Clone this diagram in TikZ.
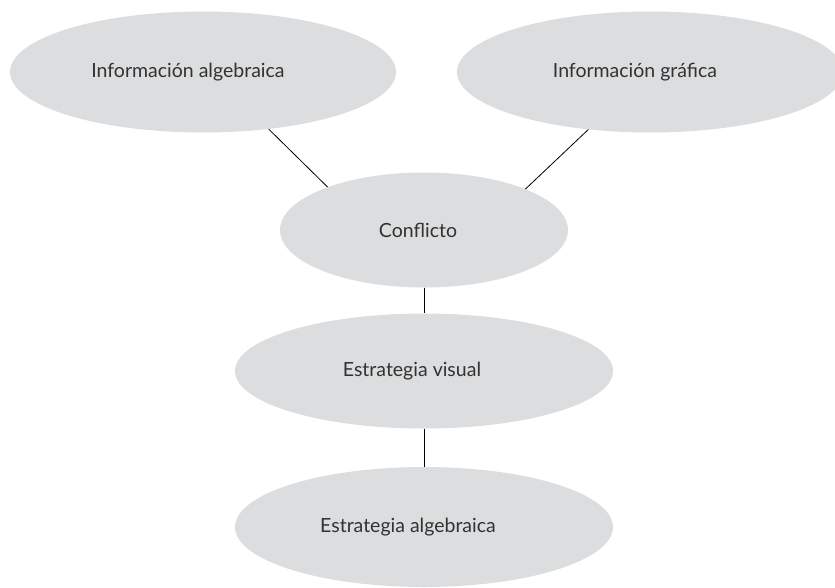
\documentclass[tikz,border=0pt]{standalone}
\usepackage{fontspec}
\setmainfont{Lato}
\usetikzlibrary{shapes.geometric}
\definecolor{bubble}{RGB}{220,221,222}
\definecolor{ink}{RGB}{50,50,50}
\tikzset{
  bubble/.style={ellipse, fill=bubble, draw=none, inner sep=0pt,
    text=ink, font=\fontsize{19.5}{22}\selectfont},
  link/.style={draw=black, line width=0.8pt}
}
\begin{document}
\begin{tikzpicture}[x=1pt,y=-1pt]
\useasboundingbox (0,0) rectangle (835,587);
\clip (0,0) rectangle (835,587);
\node[bubble, minimum width=386pt, minimum height=121pt] (ia) at (203,72) {Información algebraica\hspace*{30pt}};
\node[bubble, minimum width=386pt, minimum height=121pt] (ig) at (650,72) {Información gráfica\hspace*{30pt}};
\node[bubble, minimum width=288pt, minimum height=115pt] (co) at (424,230) {Conflicto\hspace*{12pt}};
\node[bubble, minimum width=378pt, minimum height=115pt] (ev) at (424,371) {Estrategia visual\hspace*{24pt}};
\node[bubble, minimum width=378pt, minimum height=120pt] (ea) at (424,527) {Estrategia algebraica\hspace*{32pt}};
\draw[link] (ia.-41) -- (co.156);
\draw[link] (ig.-137) -- (co.22);
\draw[link] (co.south) -- (ev.north);
\draw[link] (ev.south) -- (ea.north);
\end{tikzpicture}
\end{document}
